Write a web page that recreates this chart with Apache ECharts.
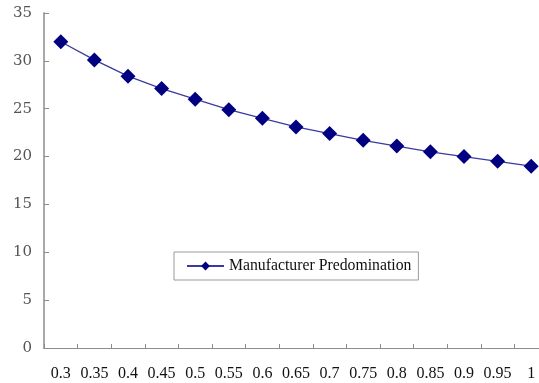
<!DOCTYPE html>
<html>
<head>
<meta charset="utf-8">
<script src="https://cdn.jsdelivr.net/npm/echarts@6/dist/echarts.min.js"></script>
<style>html,body{margin:0;padding:0;background:#fff;}#c{width:539px;height:383px;}</style>
</head>
<body>
<div id="c"></div>
<script>
const categories = ['0.3','0.35','0.4','0.45','0.5','0.55','0.6','0.65','0.7','0.75','0.8','0.85','0.9','0.95','1'];
const seriesName = 'Manufacturer Predomination';
const values = [32.0, 30.1, 28.4, 27.1, 26.0, 24.9, 24.0, 23.1, 22.4, 21.7, 21.1, 20.5, 20.0, 19.5, 19.0];
const yMin = 0, yMax = 35, yStep = 5;

const chart = echarts.init(document.getElementById('c'), null, {renderer: 'canvas'});
chart.setOption({
  animation: false,
  backgroundColor: '#ffffff',
  grid: {left: 44, top: 13, width: 504, height: 335, containLabel: false, outerBoundsMode: 'none'},
  legend: {
    show: true,
    left: 174, top: 252,
    padding: [6, 7, 6, 12],
    borderColor: '#9a9a9a', borderWidth: 1,
    itemWidth: 37, itemHeight: 11, itemGap: 4,
    textStyle: {fontFamily: 'Liberation Serif', fontSize: 15.75, color: '#111'},
    data: [seriesName]
  },
  xAxis: {
    type: 'category',
    data: categories,
    boundaryGap: true,
    axisLine: {show: true, lineStyle: {color: '#8c8c8c', width: 1}},
    axisTick: {show: true, inside: true, length: 4, interval: 0, lineStyle: {color: '#8c8c8c'}},
    axisLabel: {interval: 0, margin: 18, fontFamily: 'Liberation Serif', fontSize: 16, color: '#111'},
    splitLine: {show: false}
  },
  yAxis: {
    type: 'value',
    min: yMin, max: yMax, interval: yStep,
    axisLine: {show: true, lineStyle: {color: '#a8a8a8', width: 2}},
    axisTick: {show: true, inside: true, length: 5, lineStyle: {color: '#8c8c8c'}},
    axisLabel: {margin: 12, fontFamily: 'DejaVu Serif', fontSize: 15, color: '#555'},
    splitLine: {show: false}
  },
  series: [{
    name: seriesName,
    type: 'line',
    data: values,
    symbol: 'diamond',
    symbolSize: [15, 15],
    itemStyle: {color: '#000080'},
    lineStyle: {color: '#3a3aa0', width: 1.3}
  }]
});
</script>
</body>
</html>
